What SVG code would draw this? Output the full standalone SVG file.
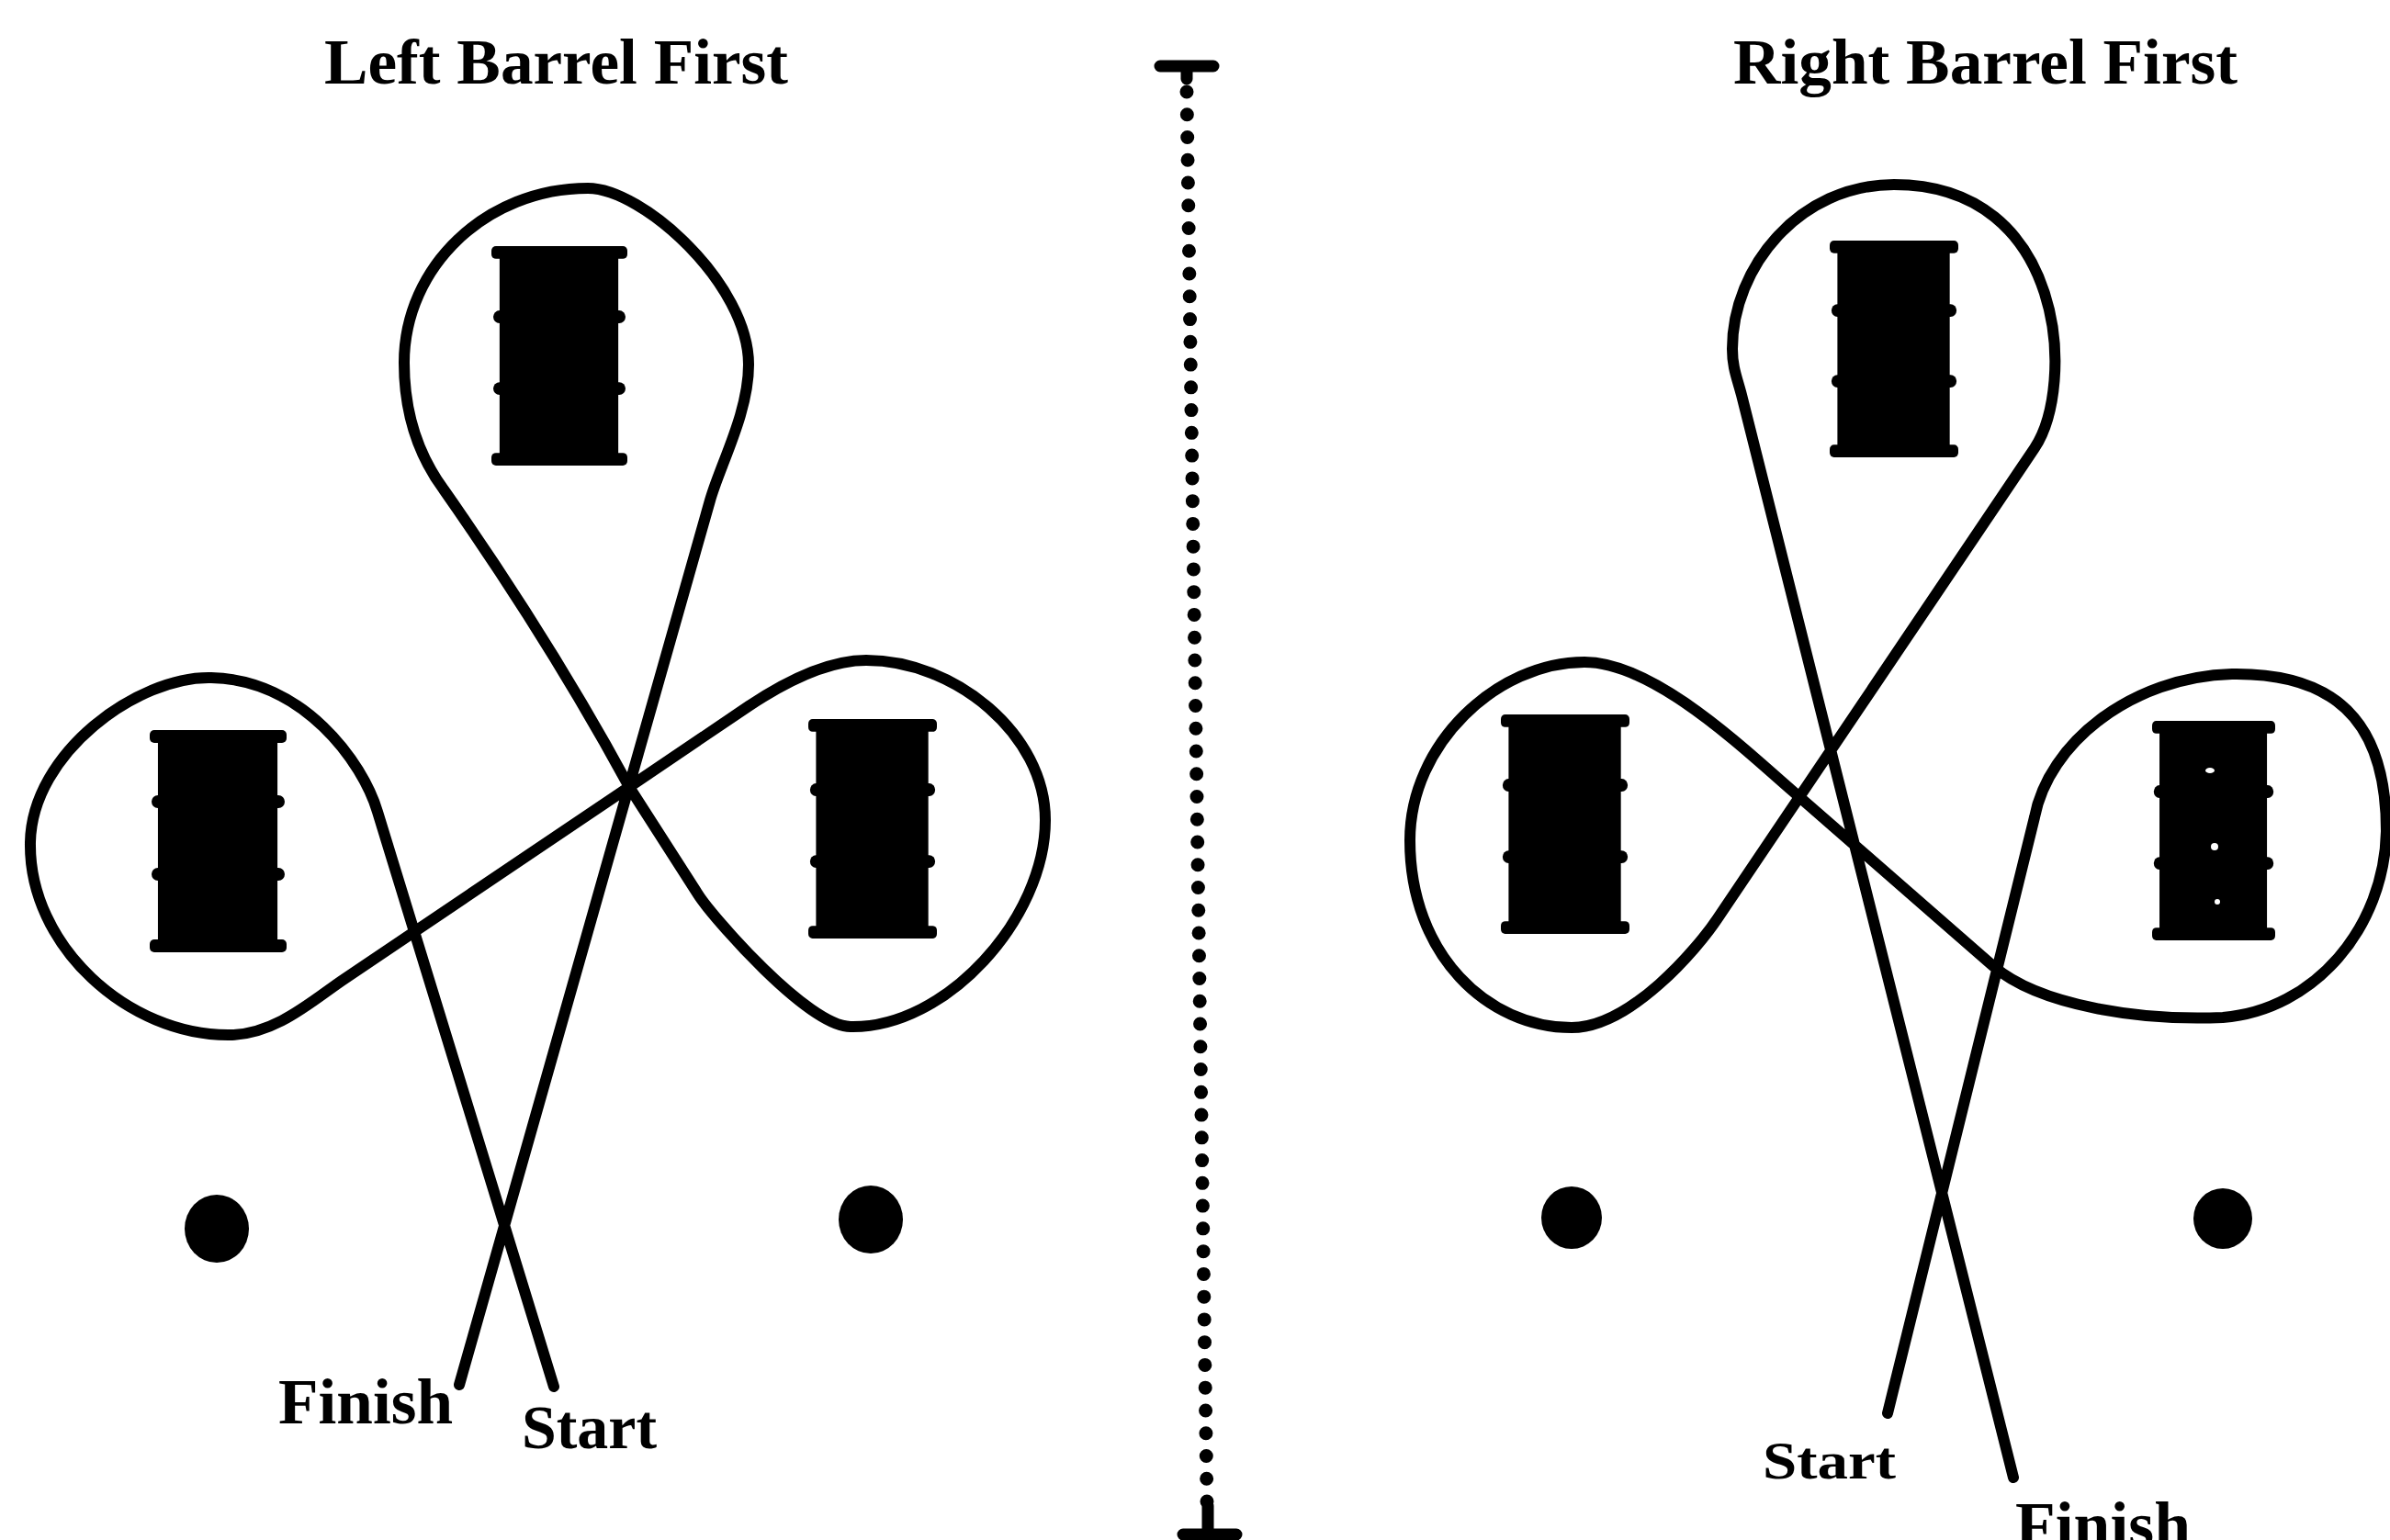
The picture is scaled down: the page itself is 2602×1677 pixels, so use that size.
<svg xmlns="http://www.w3.org/2000/svg" xmlns:xlink="http://www.w3.org/1999/xlink" width="2602" height="1677" viewBox="0 0 2602 1677">
<style>
.route{fill:none;stroke:#000;stroke-width:12;stroke-linecap:round;stroke-linejoin:round}
.lbl{font-family:"Liberation Serif","Times New Roman",serif;font-weight:bold;fill:#000}
.pylon{fill:#000}
.speck{fill:#fff}
</style>
<defs>
<symbol id="barrel" viewBox="0 0 150 242" preserveAspectRatio="none">
<rect x="0" y="0" width="150" height="14" rx="5" fill="#000"/>
<rect x="9" y="8" width="131" height="226" fill="#000"/>
<rect x="0" y="228" width="150" height="14" rx="5" fill="#000"/>
<rect x="2" y="71" width="146" height="14" rx="7" fill="#000"/>
<rect x="2" y="150" width="146" height="14" rx="7" fill="#000"/>
</symbol>
</defs>
<rect width="2602" height="1677" fill="#fff"/>

<g id="title-left"><text class="lbl" x="353" y="91" font-size="70" textLength="505" lengthAdjust="spacingAndGlyphs">Left Barrel First</text></g>
<g id="title-right"><text class="lbl" x="1887" y="91" font-size="70" textLength="549" lengthAdjust="spacingAndGlyphs">Right Barrel First</text></g>

<g id="divider" fill="none" stroke="#000" stroke-linecap="round">
<path d="M1263,72 H1321 M1292,72 V86" stroke-width="13"/>
<line x1="1292" y1="100" x2="1314" y2="1635" stroke-width="15" stroke-dasharray="0 24.76"/>
<path d="M1315,1640 V1668 M1288,1671 H1346" stroke-width="13"/>
</g>

<g id="connectors">
<path id="route-left" class="route" d="M603,1510 L411,884 C395,830 330,740 230,738 C150,736 35,820 33,917 C31,1030 140,1128 250,1127 C300,1127 342,1088 375,1066 L685,857 L815,769 C860,739 905,719 943,719 C1040,719 1138,800 1138,893 C1138,1000 1030,1120 926,1118 C880,1118 776,999 760,974 L685,857 Q600,700 483,533 C455,495 440,450 440,395 C440,290 530,205 640,205 C700,205 815,310 815,397 C815,450 784,506 773,545 L500,1508"/>
<path id="route-right" class="route" d="M2055,1539 L2215,890 C2230,810 2320,737 2430,734 C2560,732 2598,805 2598,905 C2596,1010 2520,1100 2420,1108 C2330,1112 2220,1095 2170,1052 L1950,860 C1897,814 1800,721 1725,721 C1630,721 1535,810 1535,915 C1535,1040 1620,1119 1711,1119 C1775,1119 1848,1033 1870,1000 L2215,488 C2260,420 2250,201 2062,201 C1960,201 1886,290 1886,380 C1886,400 1891,411 1896,430 L2192,1609"/>
</g>

<g id="barrel-left-1"><use xlink:href="#barrel" x="163" y="795" width="149" height="242"/></g>
<g id="barrel-top-1"><use xlink:href="#barrel" x="535" y="268" width="148" height="239"/></g>
<g id="barrel-right-1"><use xlink:href="#barrel" x="880" y="783" width="140" height="239"/></g>
<g id="pylon-left-1"><ellipse class="pylon" cx="236" cy="1338" rx="35" ry="37"/></g>
<g id="pylon-right-1"><ellipse class="pylon" cx="948" cy="1328" rx="35" ry="37"/></g>
<g id="label-finish-1"><text class="lbl" x="303" y="1550" font-size="70" textLength="190" lengthAdjust="spacingAndGlyphs">Finish</text></g>
<g id="label-start-1"><text class="lbl" x="568" y="1577" font-size="68" textLength="147" lengthAdjust="spacingAndGlyphs">Start</text></g>

<g id="barrel-left-2"><use xlink:href="#barrel" x="1634" y="778" width="140" height="239"/></g>
<g id="barrel-top-2"><use xlink:href="#barrel" x="1992" y="262" width="140" height="236"/></g>
<g id="barrel-right-2"><use xlink:href="#barrel" x="2343" y="785" width="134" height="239"/>
<ellipse class="speck" cx="2406" cy="839" rx="5" ry="3"/><ellipse class="speck" cx="2411" cy="922" rx="4" ry="4"/><ellipse class="speck" cx="2414" cy="982" rx="3" ry="3"/></g>
<g id="pylon-left-2"><ellipse class="pylon" cx="1711" cy="1326" rx="33" ry="34"/></g>
<g id="pylon-right-2"><ellipse class="pylon" cx="2420" cy="1327" rx="32" ry="33"/></g>
<g id="label-start-2"><text class="lbl" x="1919" y="1610" font-size="56" textLength="145" lengthAdjust="spacingAndGlyphs">Start</text></g>
<g id="label-finish-2"><text class="lbl" x="2194" y="1684" font-size="70" textLength="191" lengthAdjust="spacingAndGlyphs">Finish</text></g>
</svg>
